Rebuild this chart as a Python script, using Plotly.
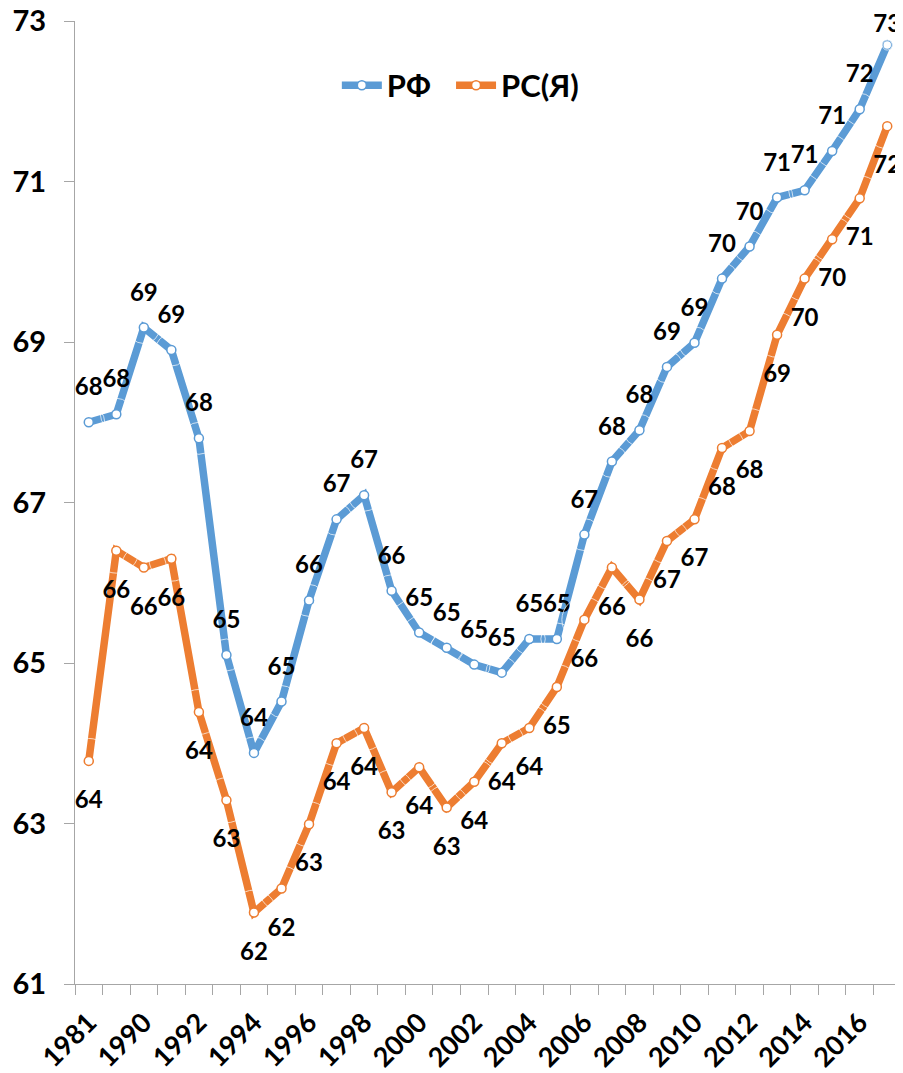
import plotly.graph_objects as go

years = ["1981", "1989", "1990", "1991", "1992", "1993", "1994", "1995", "1996",
         "1997", "1998", "1999", "2000", "2001", "2002", "2003", "2004", "2005",
         "2006", "2007", "2008", "2009", "2010", "2011", "2012", "2013", "2014",
         "2015", "2016", "2017"]

rf = [68.0, 68.1, 69.18, 68.9, 67.8, 65.1, 63.88, 64.52, 65.78,
      66.79, 67.09, 65.9, 65.38, 65.19, 64.98, 64.88, 65.3, 65.3,
      66.6, 67.51, 67.9, 68.69, 68.99, 69.79, 70.19, 70.8, 70.89,
      71.38, 71.9, 72.7]

rs_ya = [63.78, 66.4, 66.19, 66.3, 64.39, 63.29, 61.89, 62.19, 62.99,
         64.0, 64.19, 63.39, 63.7, 63.2, 63.52, 64.0, 64.19, 64.7,
         65.54, 66.19, 65.79, 66.52, 66.79, 67.68, 67.89, 69.09, 69.79,
         70.28, 70.79, 71.69]

tick_text = ["1981", "", "1990", "", "1992", "", "1994", "", "1996", "", "1998", "",
             "2000", "", "2002", "", "2004", "", "2006", "", "2008", "", "2010", "",
             "2012", "", "2014", "", "2016", ""]

y_ticks = [61, 63, 65, 67, 69, 71, 73]

BLUE = "#5B9BD5"
ORANGE = "#ED7D31"
FONT = "Lato, 'Noto Sans', sans-serif"
GRAY = "#A6A6A6"

# label offset (invisible marker sizes); last blue label sits closer to fit
rf_label_size = [32] * (len(years) - 1) + [10]
rs_label_size = [45] * len(years)

fig = go.Figure()

# legend names: non-breaking spaces only widen the first entry's gap
for name, vals, color, pos, lsize in [("РФ\u00a0\u00a0", rf, BLUE, "top center", rf_label_size),
                                      ("РС(Я)", rs_ya, ORANGE, "bottom center", rs_label_size)]:
    fig.add_trace(go.Scatter(
        x=years, y=vals, name=name, mode="lines+markers",
        line=dict(color=color, width=7.5),
        marker=dict(size=9, color="white", line=dict(color=color, width=1.5)),
        hoverinfo="skip",
    ))
    fig.add_trace(go.Scatter(
        x=years, y=vals, mode="markers+text", showlegend=False,
        marker=dict(size=lsize, color="rgba(0,0,0,0)"),
        text=[f"{v:.0f}" for v in vals], textposition=pos,
        textfont=dict(family=FONT, size=24, weight="bold", color="black"),
        hoverinfo="skip", cliponaxis=False,
    ))

fig.update_layout(
    width=895, height=1065,
    margin=dict(l=67, r=1.5, t=13, b=89),
    plot_bgcolor="white", paper_bgcolor="white",
    font=dict(family=FONT, color="black"),
    showlegend=True,
    legend=dict(orientation="h", x=0.317, y=0.933, xanchor="left", yanchor="middle",
                font=dict(family=FONT, size=31, weight="bold", color="black"),
                bgcolor="rgba(0,0,0,0)", itemwidth=40, tracegroupgap=0),
    xaxis=dict(type="category", range=[-0.5, 29.5], tickson="boundaries",
               tickmode="array", tickvals=years, ticktext=tick_text,
               ticks="outside", ticklen=10, tickcolor=GRAY, showline=True,
               linecolor=GRAY, linewidth=1, showgrid=False, tickangle=-45,
               automargin=False, ticklabelshift=0, ticklabelstandoff=11,
               ticklabeloverflow="allow",
               tickfont=dict(family=FONT, size=27, weight="bold", color="black")),
    yaxis=dict(range=[61, 73], tickmode="array", tickvals=y_ticks,
               ticks="outside", ticklen=10,
               tickcolor=GRAY, showline=True, linecolor=GRAY, linewidth=1,
               showgrid=False, zeroline=False, automargin=False,
               ticklabelstandoff=12, ticklabeloverflow="allow",
               tickfont=dict(family=FONT, size=29, weight="bold", color="black")),
)

fig.write_html("out.html")
